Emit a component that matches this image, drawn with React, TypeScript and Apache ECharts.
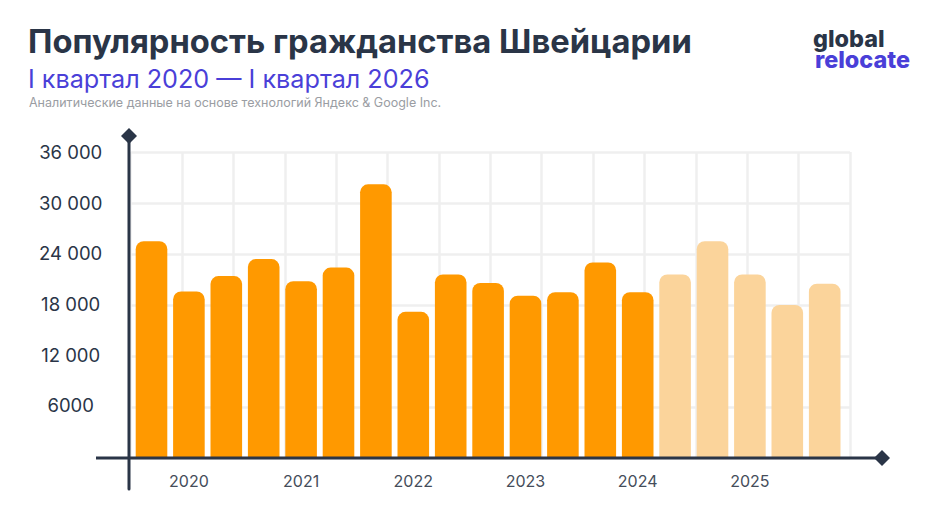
import React, { useEffect, useRef } from "react";
import * as echarts from "echarts";

const yearLabels = ["", "2020", "", "", "2021", "", "", "2022", "", "", "2023", "", "", "2024", "", "", "2025", "", ""];
const actualValues = [25500, 19600, 21400, 23400, 20800, 22400, 32200, 17200, 21600, 20600, 19100, 19500, 23000, 19500, null, null, null, null, null];
const forecastValues = [null, null, null, null, null, null, null, null, null, null, null, null, null, null, 21600, 25500, 21600, 18000, 20500];
const yTickLabels: Record<number, string> = { 6000: "6000", 12000: "12 000", 18000: "18 000", 24000: "24 000", 30000: "30 000", 36000: "36 000" };

const DARK = "#2a3547";
const BLUE = "#4a3fd8";
const FONT = "Inter";

export default function App() {
  const ref = useRef<HTMLDivElement>(null);
  useEffect(() => {
    const chart = echarts.init(ref.current!, null, { renderer: "svg" });
    const yBase = { type: "value", min: 0, max: 36000, interval: 6000 };
    const hidden = { axisLine: { show: false }, axisTick: { show: false }, axisLabel: { show: false }, splitLine: { show: false } };
    chart.setOption({
      animation: false,
      backgroundColor: "#ffffff",
      grid: [
        { left: 130.7, width: 719.3, top: 152, height: 306 },
        { left: 132.8, width: 710.6, top: 152, height: 306 },
        { left: 130.7, width: 719.3, top: 152, height: 304 },
      ],
      xAxis: [
        {
          type: "value", gridIndex: 0, min: 0, max: 14, interval: 1,
          ...hidden,
          splitLine: { show: true, lineStyle: { color: "#efefef", width: 2.5 } },
        },
        {
          type: "category", gridIndex: 1, data: yearLabels,
          axisLine: { show: false }, axisTick: { show: false },
          axisLabel: { interval: 0, color: "#454d5a", fontFamily: FONT, fontSize: 16, margin: 15 },
        },
        { type: "value", gridIndex: 2, min: 0, max: 14, interval: 1, ...hidden },
      ],
      yAxis: [
        {
          ...yBase, gridIndex: 0,
          ...hidden,
          splitLine: { show: true, lineStyle: { color: "#efefef", width: 2.5 } },
        },
        { ...yBase, gridIndex: 1, ...hidden },
        {
          ...yBase, gridIndex: 2,
          ...hidden,
          axisLabel: {
            show: true, color: DARK, fontFamily: FONT, fontSize: 18.5, align: "center", margin: 60,
            formatter: (v: number) => yTickLabels[v] ?? "",
          },
        },
      ],
      series: [
        {
          type: "bar", xAxisIndex: 1, yAxisIndex: 1, data: actualValues, barWidth: 31.6, barGap: "-100%",
          itemStyle: { color: "#ff9900", borderRadius: [8, 8, 0, 0] },
        },
        {
          type: "bar", xAxisIndex: 1, yAxisIndex: 1, data: forecastValues, barWidth: 31.6,
          itemStyle: { color: "#fbd49b", borderRadius: [8, 8, 0, 0] },
        },
      ],
      graphic: [
        { type: "text", x: 28, y: 24, style: { text: "Популярность гражданства Швейцарии", fill: DARK, font: `700 32.7px ${FONT}` } },
        { type: "text", x: 28, y: 66, style: { text: "I квартал 2020 — I квартал 2026", fill: BLUE, font: `400 25.2px ${FONT}` } },
        { type: "text", x: 29, y: 96, style: { text: "Аналитические данные на основе технологий Яндекс & Google Inc.", fill: "#9a9da3", font: `400 12.5px ${FONT}` } },
        { type: "text", x: 813, y: 27, style: { text: "global", fill: DARK, font: `800 23.4px ${FONT}` } },
        { type: "text", x: 815, y: 47.5, style: { text: "relocate", fill: BLUE, font: `800 23.4px ${FONT}` } },
        { type: "line", z: 50, shape: { x1: 96, y1: 458, x2: 882, y2: 458 }, style: { stroke: DARK, lineWidth: 3 } },
        { type: "line", z: 50, shape: { x1: 129, y1: 136, x2: 129, y2: 489 }, style: { stroke: DARK, lineWidth: 3, lineCap: "round" } },
        { type: "polygon", z: 51, shape: { points: [[129, 128], [137, 136], [129, 144], [121, 136]] }, style: { fill: DARK } },
        { type: "polygon", z: 51, shape: { points: [[882, 450], [890, 458], [882, 466], [874, 458]] }, style: { fill: DARK } },
      ],
    });
    return () => chart.dispose();
  }, []);
  return <div ref={ref} style={{ position: "absolute", left: 0, top: 0, width: 935, height: 522 }} />;
}
